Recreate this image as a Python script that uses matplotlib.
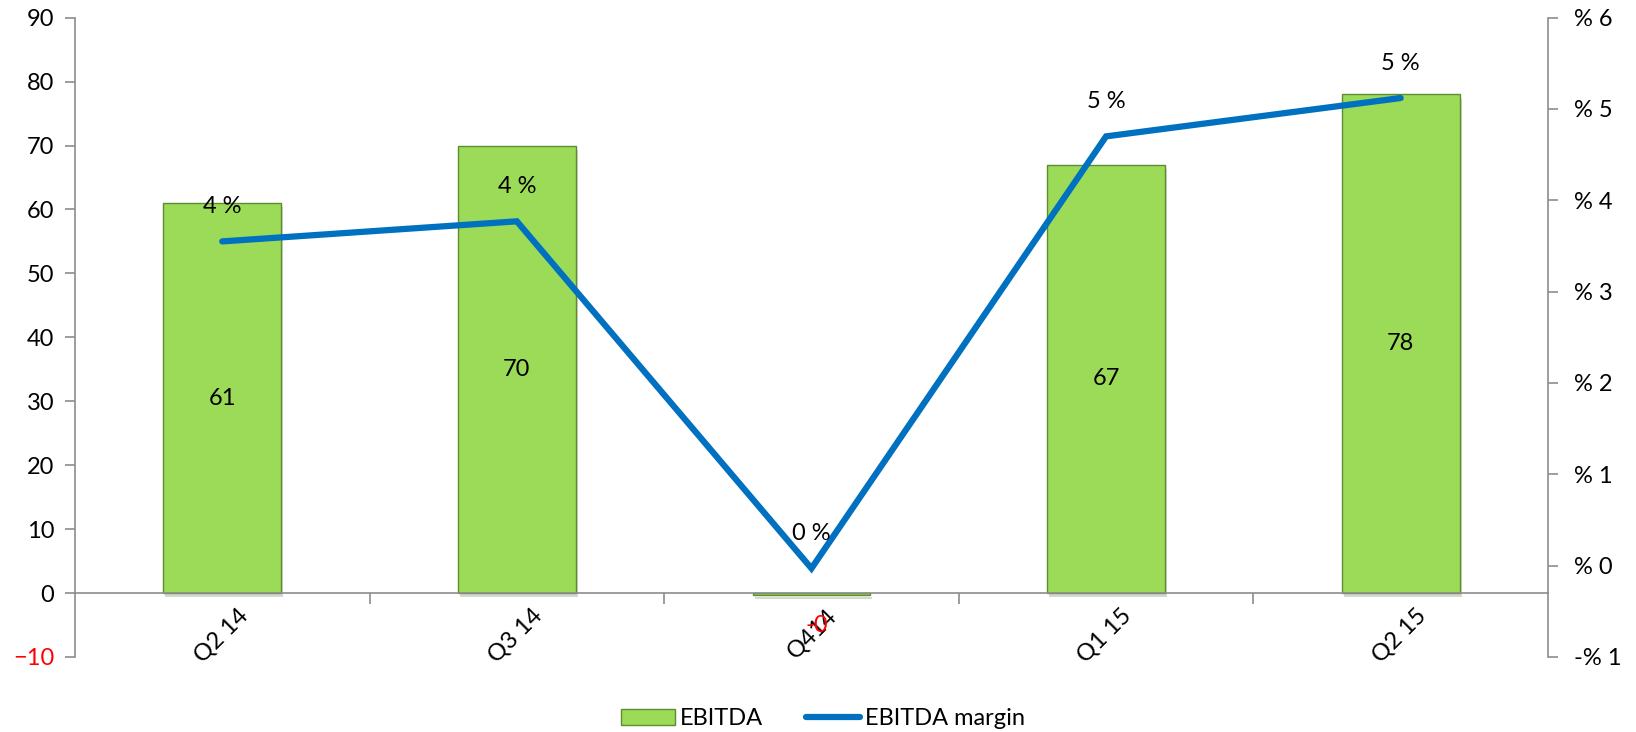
import matplotlib.pyplot as plt
import matplotlib.patheffects as pe
import matplotlib.transforms as mtransforms
from matplotlib.lines import Line2D
from matplotlib.patches import Patch

plt.rcParams['font.family'] = ['Lato', 'DejaVu Sans']

# Data
quarters = ['Q2 14', 'Q3 14', 'Q414', 'Q1 15', 'Q2 15']
ebitda = [61, 70, -0.3, 67, 78]
ebitda_labels = ['61', '70', '-0', '67', '78']
margin = [3.55, 3.77, -0.03, 4.70, 5.12]
margin_labels = ['4 %', '4 %', '0 %', '5 %', '5 %']

left_ticks = [-10, 0, 10, 20, 30, 40, 50, 60, 70, 80, 90]
right_ticks = [-1, 0, 1, 2, 3, 4, 5, 6]
right_tick_labels = ['-% 1', '% 0', '% 1', '% 2', '% 3', '% 4', '% 5', '% 6']

bar_color = '#9CDB57'
bar_edge = '#5E8C2F'
line_color = '#0070C0'
axis_color = '#8C8C8C'
fs = 17

fig = plt.figure(figsize=(16.36, 7.32), dpi=100)
ax = fig.add_axes([0.0458, 0.1025, 0.9004, 0.8734])

x = list(range(len(quarters)))
bars = ax.bar(x, ebitda, width=0.40, color=bar_color, edgecolor=bar_edge,
              linewidth=1.0, zorder=2)
for b in bars:
    b.set_path_effects([pe.SimplePatchShadow(offset=(1.5, -3), alpha=0.2),
                        pe.Normal()])

ax.set_xlim(-0.5, len(quarters) - 0.5)
ax.set_ylim(-10, 90)
ax.set_yticks(left_ticks)
ax.tick_params(axis='y', labelsize=fs, colors=axis_color, labelcolor='black',
               length=7, width=1.2, pad=8)
for lbl, v in zip(ax.get_yticklabels(), left_ticks):
    if v < 0:
        lbl.set_color('red')

# x axis at zero
ax.spines['top'].set_visible(False)
ax.spines['right'].set_visible(False)
ax.spines['bottom'].set_position(('data', 0))
ax.spines['bottom'].set_color(axis_color)
ax.spines['bottom'].set_linewidth(1.2)
ax.spines['left'].set_color(axis_color)
ax.spines['left'].set_linewidth(1.2)
ax.set_xticks(x)
ax.set_xticklabels(quarters, rotation=45, ha='right', va='center',
                   rotation_mode='anchor', fontsize=fs)
ax.tick_params(axis='x', which='major', length=0, pad=14)
shift = mtransforms.ScaledTranslation(22 / 100, 0, fig.dpi_scale_trans)
for lbl in ax.get_xticklabels():
    lbl.set_transform(lbl.get_transform() + shift)
ax.set_xticks([i + 0.5 for i in x[:-1]], minor=True)
ax.tick_params(axis='x', which='minor', length=8, width=1.2, colors=axis_color)

# bar value labels
for i, (v, t) in enumerate(zip(ebitda, ebitda_labels)):
    if v < 0:
        ax.annotate(t, (i, v), xytext=(4, -22), textcoords='offset points',
                    ha='center', va='center', fontsize=fs, color='red')
    else:
        ax.text(i, v / 2, t, ha='center', va='center', fontsize=fs, zorder=4)

# margin line on right axis
ax2 = ax.twinx()
ax2.set_position(ax.get_position())
ax2.plot(x, margin, color=line_color, linewidth=4.5, solid_capstyle='round',
         solid_joinstyle='miter', zorder=3)
ax2.set_ylim(-1, 6)
ax2.set_yticks(right_ticks)
ax2.set_yticklabels(right_tick_labels)
ax2.tick_params(axis='y', labelsize=fs, colors=axis_color, labelcolor='black',
                length=7, width=1.2, pad=12)
for s in ['top', 'bottom', 'left']:
    ax2.spines[s].set_visible(False)
ax2.spines['right'].set_color(axis_color)
ax2.spines['right'].set_linewidth(1.2)

for i, (m, t) in enumerate(zip(margin, margin_labels)):
    ax2.annotate(t, (i, m), xytext=(0, 25), textcoords='offset points',
                 ha='center', va='center', fontsize=fs)

handles = [Patch(facecolor=bar_color, edgecolor=bar_edge, label='EBITDA'),
           Line2D([0], [0], color=line_color, linewidth=4.5,
                  solid_capstyle='round', label='EBITDA margin')]
fig.legend(handles=handles, loc='center', bbox_to_anchor=(0.503, 0.018),
           ncol=2, frameon=False, fontsize=fs, handlelength=2.3,
           handletextpad=0.2, columnspacing=1.8)

fig.savefig('out.png', dpi=100)
